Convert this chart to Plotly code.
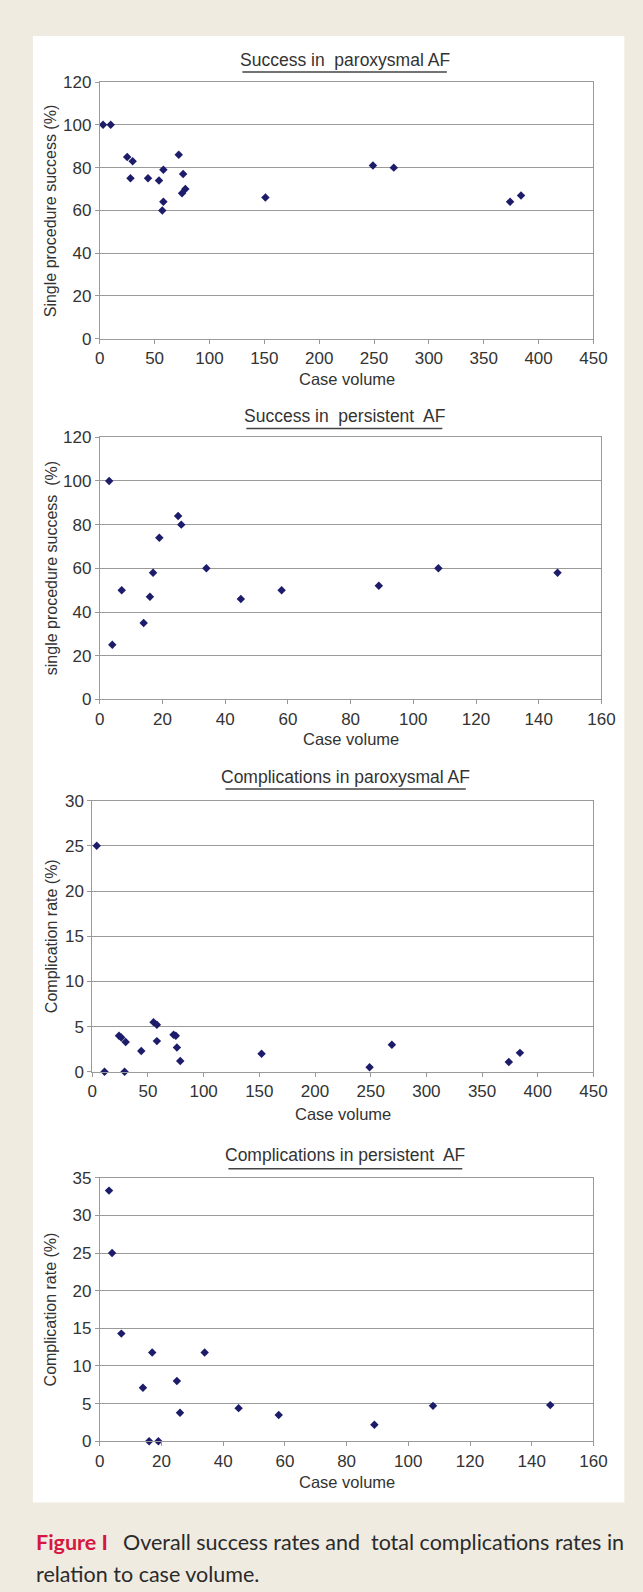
import plotly.graph_objects as go

# target frame (what the final picture should look like)
W, H = 643, 1592
# the page photo maps figure pixels to the picture as: pic = S * fig + O
SX, SY = 0.973, 0.991
OX, OY = 4.0, 6.0

# ---- data ----
par_success_x = [3, 10, 25, 30, 28, 44, 54, 58, 58, 57, 72, 76, 75, 78, 151, 249, 268, 374, 384]
par_success_y = [100, 100, 85, 83, 75, 75, 74, 79, 64, 60, 86, 77, 68, 70, 66, 81, 80, 64, 67]

pers_success_x = [3, 4, 7, 14, 16, 17, 19, 25, 26, 34, 45, 58, 89, 108, 146]
pers_success_y = [100, 25, 50, 35, 47, 58, 74, 84, 80, 60, 46, 50, 52, 60, 58]

par_compl_x = [4, 11, 24, 26, 30, 29, 44, 55, 58, 58, 73, 75, 76, 79, 152, 249, 269, 374, 384]
par_compl_y = [25, 0, 4.0, 3.8, 3.3, 0, 2.3, 5.5, 5.2, 3.4, 4.1, 4.0, 2.7, 1.2, 2.0, 0.5, 3.0, 1.1, 2.1]

pers_compl_x = [3, 4, 7, 14, 17, 16, 19, 25, 26, 34, 45, 58, 89, 108, 146]
pers_compl_y = [33.3, 25, 14.3, 7.1, 11.8, 0, 0, 8, 3.8, 11.8, 4.4, 3.5, 2.2, 4.7, 4.8]

titles = ["Success in\u00a0 paroxysmal AF", "Success in\u00a0 persistent\u00a0 AF",
          "Complications in paroxysmal AF", "Complications in persistent\u00a0 AF"]
ytitles = ["Single procedure success (%)", "single procedure success\u00a0 (%)",
           "Complication rate (%)", "Complication rate (%)"]
xtitle = "Case volume"
caption_head = "Figure I"
caption_l1 = "Overall success rates and\u00a0 total complications rates in"
caption_l2 = "relation to case volume."

# ---- layout geometry (pixels in target frame) ----
panels = [
    dict(x=par_success_x, y=par_success_y, xr=[0, 450], xd=50, yr=[0, 120], yd=20,
         px=(99, 594), py=(79.3, 336.7), title_y=56.7, ul=(242, 447, 69.3), xt_y=377, yt_x=50),
    dict(x=pers_success_x, y=pers_success_y, xr=[0, 160], xd=20, yr=[0, 120], yd=20,
         px=(99, 602), py=(435.5, 698.5), title_y=414.3, ul=(246, 442.5, 426.7), xt_y=738, yt_x=50),
    dict(x=par_compl_x, y=par_compl_y, xr=[0, 450], xd=50, yr=[0, 30], yd=5,
         px=(91.5, 594), py=(800, 1072), title_y=776.7, ul=(225, 466, 788.3), xt_y=1114, yt_x=50),
    dict(x=pers_compl_x, y=pers_compl_y, xr=[0, 160], xd=20, yr=[0, 35], yd=5,
         px=(99, 594), py=(1178.3, 1442.5), title_y=1155, ul=(228, 462.5, 1169.3), xt_y=1483, yt_x=50),
]

def fx(p):
    return ((p - OX) / SX) / W

def fy(p):
    return 1 - ((p - OY) / SY) / H

BG = "#EFEBE1"
GRID = "#9a9a9a"
TXT = "#333333"
MARK = "#1C1C6A"
FONT = "Liberation Sans, Arial, sans-serif"

fig = go.Figure()
shapes = [dict(type="rect", xref="paper", yref="paper", x0=fx(32), x1=fx(625), y0=fy(33), y1=fy(1504),
               fillcolor="white", line=dict(width=0), layer="below")]
annotations = []
layout = {}

for i, p in enumerate(panels):
    n = "" if i == 0 else str(i + 1)
    fig.add_trace(go.Scatter(x=p["x"], y=p["y"], mode="markers", xaxis="x" + n, yaxis="y" + n,
                             marker=dict(symbol="diamond", size=6.5, color=MARK),
                             cliponaxis=False, hoverinfo="x+y"))
    layout["xaxis" + n] = dict(domain=[fx(p["px"][0]), fx(p["px"][1])], anchor="y" + n,
                               range=p["xr"], dtick=p["xd"], tick0=0, showgrid=False, zeroline=False,
                               showline=True, linecolor=GRID, linewidth=1, mirror=True,
                               ticks="outside", ticklen=4, tickcolor=GRID,
                               tickfont=dict(family=FONT, size=17, color=TXT))
    layout["yaxis" + n] = dict(domain=[fy(p["py"][1]), fy(p["py"][0])], anchor="x" + n,
                               range=p["yr"], dtick=p["yd"], tick0=0, showgrid=True, gridcolor=GRID,
                               gridwidth=1, zeroline=False,
                               showline=True, linecolor=GRID, linewidth=1, mirror=True,
                               ticks="outside", ticklen=4, tickcolor=GRID,
                               tickfont=dict(family=FONT, size=17, color=TXT))
    cx = (p["px"][0] + p["px"][1]) / 2
    annotations.append(dict(text=titles[i], xref="paper", yref="paper", x=fx((p["ul"][0] + p["ul"][1]) / 2),
                            y=fy(p["title_y"]), xanchor="center", yanchor="middle", showarrow=False,
                            font=dict(family=FONT, size=17.5, color=TXT)))
    shapes.append(dict(type="line", xref="paper", yref="paper", x0=fx(p["ul"][0]), x1=fx(p["ul"][1]),
                       y0=fy(p["ul"][2]), y1=fy(p["ul"][2]), line=dict(color="#444444", width=1.5)))
    annotations.append(dict(text=xtitle, xref="paper", yref="paper", x=fx(cx), y=fy(p["xt_y"]),
                            xanchor="center", yanchor="middle", showarrow=False,
                            font=dict(family=FONT, size=16.5, color=TXT)))
    annotations.append(dict(text=ytitles[i], xref="paper", yref="paper", x=fx(p["yt_x"]),
                            y=fy((p["py"][0] + p["py"][1]) / 2), xanchor="center", yanchor="middle",
                            textangle=-90, showarrow=False,
                            font=dict(family=FONT, size=16, color=TXT)))

annotations.append(dict(text="<b>" + caption_head + "</b>", xref="paper", yref="paper", x=fx(33), y=fy(1544),
                        xanchor="left", yanchor="middle", showarrow=False,
                        font=dict(family="Lato, sans-serif", size=21.5, color="#D6173F")))
annotations.append(dict(text=caption_l1, xref="paper", yref="paper", x=fx(120), y=fy(1544),
                        xanchor="left", yanchor="middle", showarrow=False,
                        font=dict(family="Lato, sans-serif", size=21.5, color="#2a2a2a")))
annotations.append(dict(text=caption_l2, xref="paper", yref="paper", x=fx(33), y=fy(1576),
                        xanchor="left", yanchor="middle", showarrow=False,
                        font=dict(family="Lato, sans-serif", size=21.5, color="#2a2a2a")))

fig.update_layout(width=W, height=H, margin=dict(l=0, r=0, t=0, b=0), paper_bgcolor=BG,
                  plot_bgcolor="white", showlegend=False, shapes=shapes, annotations=annotations,
                  **layout)
fig.write_html("out.html", config={"displayModeBar": False},
               post_script="document.body.style.margin='0';document.body.style.background='" + BG + "';")
